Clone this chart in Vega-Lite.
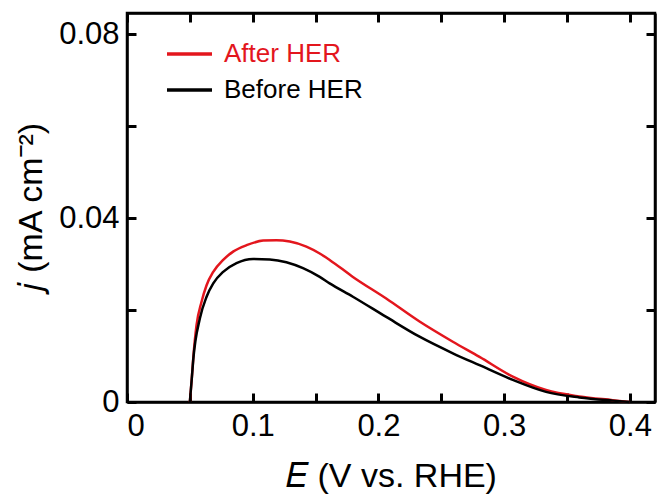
{
  "$schema": "https://vega.github.io/schema/vega-lite/v6.json",
  "autosize": {"type": "none"},
  "padding": {"left": 127, "top": 13, "right": 3, "bottom": 97},
  "width": 528,
  "height": 389,
  "background": "white",
  "config": {
    "font": "Liberation Sans",
    "view": {"stroke": "black", "strokeWidth": 2.5},
    "axis": {"grid": false, "domainColor": "black", "domainWidth": 2.5, "ticks": true, "tickColor": "black", "tickSize": -9, "tickWidth": 3, "labelColor": "black", "labelFont": "Liberation Sans", "titleFont": "Liberation Sans", "titleColor": "black", "titleFontWeight": "normal"}
  },
  "data": {"values": [
    {"E": 0.050, "j": 0.0, "series": "After HER"},
    {"E": 0.0515, "j": 0.005, "series": "After HER"},
    {"E": 0.0527, "j": 0.0095, "series": "After HER"},
    {"E": 0.0553, "j": 0.0167, "series": "After HER"},
    {"E": 0.0593, "j": 0.0218, "series": "After HER"},
    {"E": 0.0633, "j": 0.0254, "series": "After HER"},
    {"E": 0.0686, "j": 0.0283, "series": "After HER"},
    {"E": 0.0765, "j": 0.0309, "series": "After HER"},
    {"E": 0.0844, "j": 0.0327, "series": "After HER"},
    {"E": 0.0951, "j": 0.0341, "series": "After HER"},
    {"E": 0.1083, "j": 0.0351, "series": "After HER"},
    {"E": 0.1189, "j": 0.0352, "series": "After HER"},
    {"E": 0.1295, "j": 0.0349, "series": "After HER"},
    {"E": 0.1427, "j": 0.0338, "series": "After HER"},
    {"E": 0.1533, "j": 0.0323, "series": "After HER"},
    {"E": 0.1612, "j": 0.0309, "series": "After HER"},
    {"E": 0.1797, "j": 0.0272, "series": "After HER"},
    {"E": 0.2062, "j": 0.0225, "series": "After HER"},
    {"E": 0.2327, "j": 0.0175, "series": "After HER"},
    {"E": 0.2592, "j": 0.0131, "series": "After HER"},
    {"E": 0.2804, "j": 0.0098, "series": "After HER"},
    {"E": 0.3069, "j": 0.0055, "series": "After HER"},
    {"E": 0.3333, "j": 0.0026, "series": "After HER"},
    {"E": 0.3598, "j": 0.0012, "series": "After HER"},
    {"E": 0.3863, "j": 0.0004, "series": "After HER"},
    {"E": 0.400, "j": 0.0, "series": "After HER"},
    {"E": 0.050, "j": 0.0, "series": "Before HER"},
    {"E": 0.0515, "j": 0.005, "series": "Before HER"},
    {"E": 0.0527, "j": 0.0092, "series": "Before HER"},
    {"E": 0.058, "j": 0.0182, "series": "Before HER"},
    {"E": 0.0633, "j": 0.0229, "series": "Before HER"},
    {"E": 0.0686, "j": 0.0258, "series": "Before HER"},
    {"E": 0.0765, "j": 0.0283, "series": "Before HER"},
    {"E": 0.0871, "j": 0.0302, "series": "Before HER"},
    {"E": 0.1003, "j": 0.0311, "series": "Before HER"},
    {"E": 0.1136, "j": 0.0310, "series": "Before HER"},
    {"E": 0.1268, "j": 0.0304, "series": "Before HER"},
    {"E": 0.14, "j": 0.0291, "series": "Before HER"},
    {"E": 0.1533, "j": 0.0272, "series": "Before HER"},
    {"E": 0.1612, "j": 0.0258, "series": "Before HER"},
    {"E": 0.1797, "j": 0.0229, "series": "Before HER"},
    {"E": 0.2062, "j": 0.0185, "series": "Before HER"},
    {"E": 0.2327, "j": 0.0142, "series": "Before HER"},
    {"E": 0.2592, "j": 0.0106, "series": "Before HER"},
    {"E": 0.2804, "j": 0.0080, "series": "Before HER"},
    {"E": 0.3069, "j": 0.0048, "series": "Before HER"},
    {"E": 0.3333, "j": 0.0022, "series": "Before HER"},
    {"E": 0.3598, "j": 0.0010, "series": "Before HER"},
    {"E": 0.3863, "j": 0.0003, "series": "Before HER"},
    {"E": 0.400, "j": 0.0, "series": "Before HER"}
  ]},
  "layer": [
    {
      "mark": {"type": "line", "strokeWidth": 2.5, "interpolate": "monotone"},
      "encoding": {
        "x": {"field": "E", "type": "quantitative", "scale": {"domain": [0, 0.42], "nice": false, "zero": false},
          "axis": {"orient": "bottom", "ticks": true, "tickColor": "black", "tickSize": -9, "tickWidth": 3, "title": "𝐸 (V vs. RHE)", "titleFontSize": 34, "titlePadding": 18, "labelFontSize": 31, "labelPadding": 18, "values": [0, 0.05, 0.1, 0.15, 0.2, 0.25, 0.3, 0.35, 0.4], "labelExpr": "round(datum.value*100) % 10 == 0 ? (datum.value == 0 ? '0' : format(datum.value, '.1f')) : ''"}},
        "y": {"field": "j", "type": "quantitative", "scale": {"domain": [0, 0.0846], "nice": false},
          "axis": {"orient": "left", "ticks": true, "tickColor": "black", "tickSize": -9, "tickWidth": 3, "title": "𝑗 (mA cm⁻²)", "titleFontSize": 34, "titlePadding": 10, "labelFontSize": 31, "labelPadding": 17, "values": [0, 0.02, 0.04, 0.06, 0.08], "labelExpr": "datum.value == 0 ? '0' : (round(datum.value*100) % 4 == 0 ? format(datum.value, '.2f') : '')"}},
        "color": {"field": "series", "type": "nominal", "scale": {"domain": ["After HER", "Before HER"], "range": ["#e3161d", "#000000"]},
          "legend": {"title": null, "orient": "none", "legendX": 38, "legendY": 26, "symbolType": "stroke", "symbolSize": 2025, "symbolStrokeWidth": 3.5, "clipHeight": 30, "labelFontSize": 26, "labelFont": "Liberation Sans", "labelOffset": 10, "rowPadding": 6, "labelColor": {"expr": "datum.value == 'After HER' ? '#e3161d' : '#000000'"}}}
      }
    },
    {
      "mark": {"type": "line", "opacity": 0},
      "encoding": {
        "x": {"field": "E", "type": "quantitative", "axis": {"orient": "top", "ticks": true, "tickColor": "black", "tickSize": -9, "tickWidth": 3, "title": null, "labels": false, "values": [0, 0.05, 0.1, 0.15, 0.2, 0.25, 0.3, 0.35, 0.4]}},
        "y": {"field": "j", "type": "quantitative", "axis": {"orient": "right", "ticks": true, "tickColor": "black", "tickSize": -9, "tickWidth": 3, "title": null, "labels": false, "values": [0, 0.02, 0.04, 0.06, 0.08]}},
        "detail": {"field": "series"}
      }
    }
  ],
  "resolve": {"axis": {"x": "independent", "y": "independent"}}
}
